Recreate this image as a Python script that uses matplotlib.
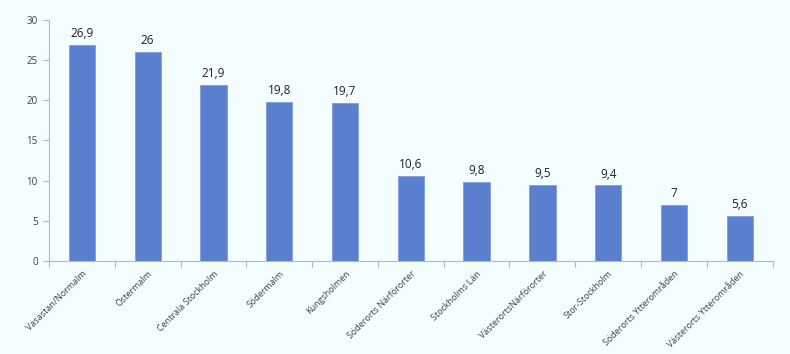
import matplotlib
matplotlib.use("Agg")
import matplotlib.pyplot as plt

categories = ["Vasastan/Normalm", "Östermalm", "Centrala Stockholm", "Södermalm",
              "Kungsholmen", "Söderorts Närförorter", "Stockholms Län",
              "VästerortsNärförorter", "Stor-Stockholm", "Söderorts Ytterområden",
              "Västerorts Ytterområden"]
values = [26.9, 26, 21.9, 19.8, 19.7, 10.6, 9.8, 9.5, 9.4, 7, 5.6]
yticks = [0, 5, 10, 15, 20, 25, 30]

bg = "#F5FEFF"
bar_color = "#5B7FCF"
axis_color = "#A8B8D8"
text_color = "#404040"

fig = plt.figure(figsize=(7.9, 3.54), dpi=100, facecolor=bg)
ax = fig.add_axes([0.062, 0.263, 0.916, 0.681], facecolor=bg)

x = list(range(len(categories)))
bars = ax.bar(x, values, width=0.4, color=bar_color, edgecolor="#7F9CE0", linewidth=0.6)

def fmt(v):
    s = f"{v:g}"
    return s.replace(".", ",")

for xi, v in zip(x, values):
    ax.text(xi, v + 0.6, fmt(v), ha="center", va="bottom", fontsize=8.5,
            color="#202020", family="Open Sans")

ax.set_xlim(-0.5, len(categories) - 0.5)
ax.set_ylim(0, 30)
ax.set_yticks(yticks)
ax.set_yticklabels([str(t) for t in yticks], fontsize=7, color=text_color, family="Open Sans")

ax.set_xticks([i - 0.5 for i in range(len(categories) + 1)], minor=False)
ax.set_xticklabels([""] * (len(categories) + 1))
ax.set_xticks(x, minor=True)
ax.set_xticklabels(categories, minor=True, rotation=45, ha="right", rotation_mode="anchor",
                   fontsize=6.5, color=text_color, family="Open Sans")
ax.tick_params(axis="x", which="minor", length=0, pad=6)
ax.tick_params(axis="x", which="major", length=4, color=axis_color, direction="out")
ax.tick_params(axis="y", length=4, color=axis_color, pad=4)

for s in ["top", "right"]:
    ax.spines[s].set_visible(False)
for s in ["left", "bottom"]:
    ax.spines[s].set_color(axis_color)
    ax.spines[s].set_linewidth(0.8)

fig.savefig("out.png", dpi=100, facecolor=bg)
